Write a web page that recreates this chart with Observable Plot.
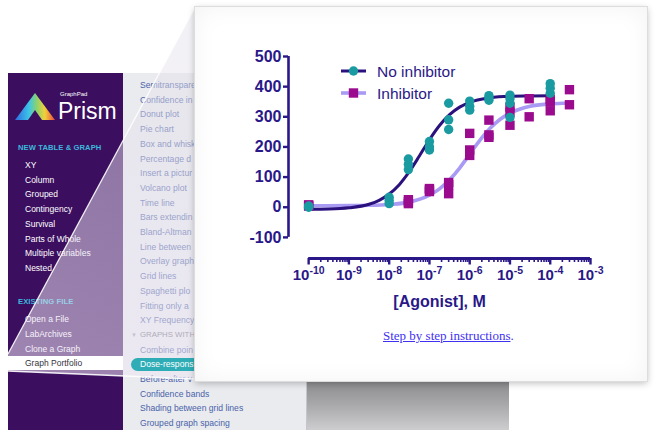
<!DOCTYPE html>
<html><head><meta charset="utf-8">
<script src="https://cdn.jsdelivr.net/npm/d3@7"></script>
<script src="https://cdn.jsdelivr.net/npm/@observablehq/plot@0.6"></script>
<style>
html,body{margin:0;padding:0;background:#fff;}
#stage{position:relative;width:655px;height:443px;overflow:hidden;font-family:"Liberation Sans",Arial,Helvetica,sans-serif;}
.abs{position:absolute;white-space:nowrap;}
#sidebar{left:8px;top:73px;width:115px;height:357px;background:#3b0e5f;overflow:hidden;}
#list{left:123px;top:73px;width:386px;height:357px;background:#e9ebef;overflow:hidden;}
#shade{left:183px;top:0;width:203px;height:357px;border-left:1px solid #c6c6ca;
  background:linear-gradient(to bottom,#e6e6e8 0%,#dadada 80%,#8c8c8f 86.5%,#a9a9ab 93%,#cdcdcf 100%);}
#top{left:0;top:0;width:655px;height:443px;pointer-events:none;}
#panel{left:195px;top:7px;width:452px;height:374px;background:#fff;
  box-shadow:0 0 0 1px #dddddd,0 2px 7px rgba(0,0,0,.28),inset 0 0 24px rgba(0,0,0,.05);}
.side{color:#ffffff;font-size:8.5px;line-height:12px;}
.head{color:#3bb8dc;font-size:7.6px;line-height:12px;font-weight:bold;letter-spacing:0.1px;}
.item{color:#4a62a8;font-size:8.6px;line-height:12px;}
#link{position:absolute;left:188px;top:321px;font-family:"Liberation Serif","Times New Roman",serif;font-size:13px;color:#3f30f2;white-space:nowrap;}
#link a{color:#3f30f2;text-decoration:underline;}
</style></head>
<body>
<div id="stage">
  <div id="sidebar" class="abs"></div>
  <div id="list" class="abs"><div id="shade" class="abs"></div></div>
  <svg id="overlay" class="abs" width="655" height="443" style="left:0;top:0;pointer-events:none">
    <defs>
      <linearGradient id="ov" gradientUnits="userSpaceOnUse" x1="195" y1="7" x2="8" y2="370">
        <stop offset="0" stop-color="#e2e0e8" stop-opacity="0.45"/>
        <stop offset="1" stop-color="#efe6f5" stop-opacity="0.55"/>
      </linearGradient>
    </defs>
    <polygon points="195,7 195,379 8,371 8,354" fill="url(#ov)"/>
  </svg>
  <div id="top" class="abs"></div>
  <svg class="abs" width="655" height="443" style="left:0;top:0;pointer-events:none">
    <line x1="8" y1="354" x2="195" y2="7" stroke="#ffffff" stroke-width="1.3" stroke-opacity="0.9"/>
    <line x1="8" y1="371" x2="195" y2="379" stroke="#ffffff" stroke-width="1.3" stroke-opacity="0.9"/>
  </svg>
  <div id="panel" class="abs">
    <div id="link"><a href="#">Step by step instructions</a>.</div>
  </div>
</div>
<script>
// ---------------- chart data ----------------
const seriesNames = ["No inhibitor", "Inhibitor"];

// No inhibitor: agonist concentrations (M) and replicate responses
const noInhConc = [1e-10, 1e-8, 3e-8, 1e-7, 3e-7, 1e-6, 3e-6, 1e-5, 1e-4];
const noInhResp = [
  [0, 2, 4],
  [12, 22, 33],
  [125, 142, 160],
  [190, 200, 218],
  [258, 290, 345],
  [322, 335, 352],
  [355, 363, 370],
  [298, 345, 360, 372],
  [378, 395, 410]
];

// Inhibitor
const inhConc = [1e-10, 3e-8, 1e-7, 3e-7, 1e-6, 3e-6, 1e-5, 3e-5, 1e-4, 3e-4];
const inhResp = [
  [4, 6, 8],
  [12, 18, 25],
  [52, 58, 62],
  [45, 75, 82],
  [172, 190, 245],
  [232, 240, 289],
  [272, 315, 332],
  [300, 360],
  [320, 350, 358],
  [340, 390]
];

// fitted curves
const noInhCurveX = [1e-10, 3.16e-10, 1e-9, 3.16e-9, 5.62e-9, 1e-8, 1.78e-8, 3.16e-8, 5.62e-8, 1e-7, 1.78e-7, 3.16e-7, 5.62e-7, 1e-6, 3.16e-6, 1e-5, 3.16e-5, 1e-4];
const noInhCurveY = [-7, -6, -2, 10, 23, 44, 75, 118, 170, 224, 271, 307, 332, 348, 363, 368, 369, 370];
const inhCurveX = [1e-10, 1e-9, 3.16e-9, 1e-8, 3.16e-8, 1e-7, 1.78e-7, 3.16e-7, 5.62e-7, 1e-6, 1.78e-6, 3.16e-6, 5.62e-6, 1e-5, 3.16e-5, 1e-4, 3e-4];
const inhCurveY = [5, 5.5, 6.4, 9.3, 17, 40, 61, 91, 130, 176, 222, 261, 291, 312, 335, 343, 346];

// axes
const yTicks = [-100, 0, 100, 200, 300, 400, 500];
const xTicks = [1e-10, 1e-9, 1e-8, 1e-7, 1e-6, 1e-5, 1e-4, 1e-3];
const xMinorTicks = xTicks.slice(0, -1).flatMap(d => [2,3,4,5,6,7,8,9].map(k => k * d));
const xDomain = [3.16e-11, 1e-3];   // y axis line sits half a decade left of 1e-10
const yDomain = [-170, 500];        // x axis line sits below -100 (offset axis)
const yAxisSpan = [-100, 500];
const xAxisSpan = [1e-10, 1e-3];
const xLabel = "[Agonist], M";

// ---------------- styles ----------------
const INK = "#2a1888", DARK = "#2b117e", TEAL = "#1a9aa1", MAG = "#9b0b8e", LAV = "#a99bf3";
const FONT = "'Liberation Sans', Arial, Helvetica, sans-serif";

const toPts = (conc, resp) => conc.flatMap((c, i) => resp[i].map(v => ({x: c, y: v})));
const noInhPts = toPts(noInhConc, noInhResp);
const inhPts = toPts(inhConc, inhResp);
const noInhCurve = noInhCurveX.map((x, i) => ({x, y: noInhCurveY[i]}));
const inhCurve = inhCurveX.map((x, i) => ({x, y: inhCurveY[i]}));

const chart = Plot.plot({
  width: 452, height: 305,
  marginLeft: 93, marginRight: 57, marginTop: 49, marginBottom: 54,
  style: {background: "transparent", color: INK, fontFamily: FONT, overflow: "visible"},
  x: {type: "log", domain: xDomain},
  y: {domain: yDomain},
  marks: [
    Plot.ruleX([xDomain[0]], {y1: yAxisSpan[0], y2: yAxisSpan[1], stroke: INK, strokeWidth: 2.6}),
    Plot.ruleY([yDomain[0]], {x1: xAxisSpan[0], x2: xAxisSpan[1], stroke: INK, strokeWidth: 3}),
    Plot.axisY({ticks: yTicks, tickSize: 5, tickPadding: 2, tickFormat: d => String(d),
      fontSize: 16, fontWeight: "bold", strokeWidth: 2.4, label: null}),
    Plot.axisX({ticks: xMinorTicks, tickSize: 4, strokeWidth: 1.6, tickFormat: () => "",
      label: xLabel, labelAnchor: "center", labelOffset: 48, labelArrow: "none",
      fontSize: 16, fontWeight: "bold"}),
    Plot.axisX({ticks: xTicks, tickSize: 6.5, tickPadding: 4, strokeWidth: 2.4,
      tickFormat: d => "10|" + Math.round(Math.log10(d)),
      fontSize: 15, fontWeight: "bold", label: null}),
    Plot.line(inhCurve, {x: "x", y: "y", stroke: LAV, strokeWidth: 3.6, curve: "monotone-x"}),
    Plot.line(noInhCurve, {x: "x", y: "y", stroke: DARK, strokeWidth: 3, curve: "monotone-x"}),
    Plot.dot(inhPts, {x: "x", y: "y", symbol: "square", r: 5.3, fill: MAG, stroke: "none"}),
    Plot.dot(noInhPts, {x: "x", y: "y", symbol: "circle", r: 4.7, fill: TEAL, stroke: "none"})
  ]
});
chart.style.position = "absolute";
chart.style.left = "0px";
chart.style.top = "0px";
const panel = document.getElementById("panel");
panel.insertBefore(chart, panel.firstChild);

// superscript exponents on the x tick labels
const NS = "http://www.w3.org/2000/svg";
chart.querySelectorAll("text").forEach(t => {
  const s = t.textContent;
  if (!s.includes("|")) return;
  const [base, exp] = s.split("|");
  t.textContent = "";
  const b = document.createElementNS(NS, "tspan"); b.textContent = base;
  const e = document.createElementNS(NS, "tspan"); e.textContent = exp;
  e.setAttribute("dy", "-6"); e.setAttribute("font-size", "10.5");
  t.appendChild(b); t.appendChild(e);
});

// legend
const leg = document.createElementNS(NS, "svg");
leg.setAttribute("width", "452"); leg.setAttribute("height", "110");
leg.style.position = "absolute"; leg.style.left = "0"; leg.style.top = "0";
const legRows = [
  {name: seriesNames[0], y: 64, line: DARK, lw: 3, marker: "circle", fill: TEAL},
  {name: seriesNames[1], y: 86, line: LAV, lw: 3.6, marker: "square", fill: MAG}
];
legRows.forEach(r => {
  const l = document.createElementNS(NS, "line");
  l.setAttribute("x1", 146); l.setAttribute("x2", 171); l.setAttribute("y1", r.y); l.setAttribute("y2", r.y);
  l.setAttribute("stroke", r.line); l.setAttribute("stroke-width", r.lw);
  leg.appendChild(l);
  let m;
  if (r.marker === "circle") {
    m = document.createElementNS(NS, "circle");
    m.setAttribute("cx", 158.5); m.setAttribute("cy", r.y); m.setAttribute("r", 4.7);
  } else {
    m = document.createElementNS(NS, "rect");
    m.setAttribute("x", 158.5 - 4.7); m.setAttribute("y", r.y - 4.7);
    m.setAttribute("width", 9.4); m.setAttribute("height", 9.4);
  }
  m.setAttribute("fill", r.fill);
  leg.appendChild(m);
  const tx = document.createElementNS(NS, "text");
  tx.setAttribute("x", 182); tx.setAttribute("y", r.y + 5.5);
  tx.setAttribute("font-size", "15.5"); tx.setAttribute("fill", INK);
  tx.setAttribute("font-family", FONT);
  tx.textContent = r.name;
  leg.appendChild(tx);
});
panel.appendChild(leg);

// ---------------- Prism sidebar & list (background screenshot) ----------------
const sideNew = ["XY", "Column", "Grouped", "Contingency", "Survival", "Parts of Whole", "Multiple variables", "Nested"];
const sideExisting = ["Open a File", "LabArchives", "Clone a Graph", "Graph Portfolio"];
// list entries as they show up beside the magnified panel (the panel hides the rest of each line)
const listItems = ["Semitranspare", "Confidence in", "Donut plot", "Pie chart", "Box and whisk",
  "Percentage d", "Insert a pictur", "Volcano plot", "Time line", "Bars extendin", "Bland-Altman",
  "Line between", "Overlay graph", "Grid lines", "Spaghetti plo", "Fitting only a", "XY Frequency",
  "GRAPHS WITH", "Combine poin", "Dose-respons", "Before-after v", "Confidence bands",
  "Shading between grid lines", "Grouped graph spacing"];

const sidebar = document.getElementById("sidebar");
const list = document.getElementById("list");
const topLayer = document.getElementById("top");
function addDiv(parent, cls, text, left, centerY, extra) {
  const d = document.createElement("div");
  d.className = "abs " + cls;
  d.textContent = text;
  d.style.left = left + "px";
  d.style.top = (centerY - 6) + "px";
  if (extra) Object.assign(d.style, extra);
  parent.appendChild(d);
  return d;
}
// logo
sidebar.insertAdjacentHTML("beforeend", `
<svg class="abs" style="left:0;top:0" width="115" height="60">
 <defs><linearGradient id="pg" x1="0" x2="1" y1="0" y2="0">
  <stop offset="0" stop-color="#2f6ae0"/><stop offset="0.35" stop-color="#3cc4e8"/>
  <stop offset="0.55" stop-color="#8ed36a"/><stop offset="0.75" stop-color="#f3cf3b"/>
  <stop offset="1" stop-color="#e8473c"/></linearGradient></defs>
 <polygon points="7,47 27,20 47,47" fill="url(#pg)"/>
 <polygon points="20,47 27,37 34,47" fill="#3b0e5f"/>
</svg>`);
addDiv(sidebar, "side", "GraphPad", 52, 21, {fontSize: "6px", lineHeight: "7px", top: "18px"});
addDiv(sidebar, "side", "Prism", 50, 39, {fontSize: "23px", lineHeight: "24px", top: "26px"});
const sTop = 73;
addDiv(sidebar, "head", "NEW TABLE & GRAPH", 10, 148 - sTop);
sideNew.forEach((t, i) => addDiv(sidebar, "side", t, 17, 165 + 14.7 * i - sTop));
addDiv(sidebar, "head", "EXISTING FILE", 10, 302 - sTop);
sideExisting.forEach((t, i) => {
  const cy = 319 + 14.8 * i;
  if (t === "Graph Portfolio") {
    const bar = document.createElement("div");
    bar.className = "abs";
    Object.assign(bar.style, {left: "8px", top: (cy - 7) + "px", width: "115px", height: "14px", background: "#ffffff"});
    topLayer.appendChild(bar);
    addDiv(topLayer, "side", t, 25, cy, {color: "#333340"});
  } else addDiv(sidebar, "side", t, 17, cy - sTop);
});
const lTop = 73, lLeft = 123;
listItems.forEach((t, i) => {
  const cy = 85 + 14.7 * i;
  if (t.startsWith("Dose-respons")) {
    const pill = document.createElement("div");
    pill.className = "abs";
    Object.assign(pill.style, {left: "131px", top: (cy - 6.5) + "px", width: "64px", height: "13px",
      background: "#2fadb6", borderRadius: "7px 0 0 7px"});
    topLayer.appendChild(pill);
    addDiv(topLayer, "item", t, 140, cy, {color: "#ffffff"});
  } else if (t.startsWith("GRAPHS")) {
    addDiv(list, "item", "\u25BC", 131 - lLeft, cy - lTop, {color: "#9a9aa2", fontSize: "6px"});
    addDiv(list, "item", t, 140 - lLeft, cy - lTop, {color: "#6a6a78", fontSize: "7.8px"});
  } else {
    addDiv(list, "item", t, 140 - lLeft, cy - lTop);
  }
});
</script>
</body></html>
